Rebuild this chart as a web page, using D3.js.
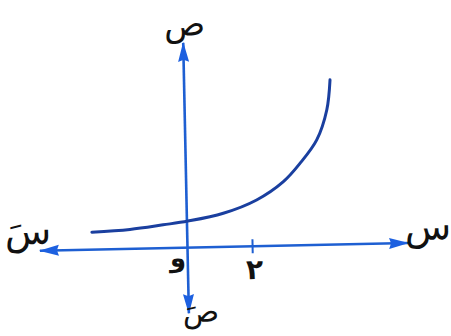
<!DOCTYPE html>
<html>
<head>
<meta charset="utf-8">
<script src="https://cdn.jsdelivr.net/npm/d3@7"></script>
<style>
  html, body { margin: 0; padding: 0; background: #fff; }
  svg { display: block; }
  .lbl { font-family: "DejaVu Sans", sans-serif; fill: #111; }
</style>
</head>
<body>
<div id="chart"></div>
<script>
// curve points (x in units, y in units)
const curveX = [-2.95, -1.77, -0.74, 0.03, 1.13, 2.17, 3.01, 3.54, 4.07, 4.40, 4.52];
const curveY = [0.54, 0.60, 0.72, 0.82, 1.04, 1.43, 1.98, 2.54, 3.25, 4.17, 5.10];

// axis extents (units)
const xDomain = [-4.57, 6.83];
const yDomain = [-2.03, 6.34];
const tickValues = [2];
const tickLabels = ["٢"];

function createGraph() {
    const width = 451, height = 336;
    const origin = { x: 187.5, y: 247.6 };
    const unit = 32.3;
    const axisColor = "#1e5fd2";
    const curveColor = "#1a3f9f";

    const svg = d3.select("#chart").append("svg")
        .attr("width", width)
        .attr("height", height);

    const defs = svg.append("defs");
    defs.append("marker")
        .attr("id", "arrow")
        .attr("viewBox", "0 0 20 12")
        .attr("refX", 19)
        .attr("refY", 6)
        .attr("markerWidth", 20)
        .attr("markerHeight", 12)
        .attr("markerUnits", "userSpaceOnUse")
        .attr("orient", "auto-start-reverse")
        .append("path")
        .attr("d", "M0,0.5 L20,6 L0,11.5 L2,6 Z")
        .attr("fill", "#1d60e0");

    // the scan is tilted a little, so the whole drawing is too
    const g = svg.append("g")
        .attr("transform", `translate(${origin.x},${origin.y}) rotate(-1.2)`);

    const x = d3.scaleLinear().domain([0, 1]).range([0, unit]);
    const y = d3.scaleLinear().domain([0, 1]).range([0, -unit]);

    // x axis (arrows both ends)
    g.append("line")
        .attr("x1", x(xDomain[0])).attr("x2", x(xDomain[1]))
        .attr("y1", y(0)).attr("y2", y(0))
        .attr("stroke", axisColor).attr("stroke-width", 2.6)
        .attr("marker-start", "url(#arrow)")
        .attr("marker-end", "url(#arrow)");

    // y axis
    g.append("line")
        .attr("x1", x(0)).attr("x2", x(0))
        .attr("y1", y(yDomain[0])).attr("y2", y(yDomain[1]))
        .attr("stroke", axisColor).attr("stroke-width", 2.6)
        .attr("marker-start", "url(#arrow)")
        .attr("marker-end", "url(#arrow)");

    // tick at 2
    const axis = g.append("g")
        .call(d3.axisBottom(x).tickValues(tickValues).tickSizeOuter(0).tickSizeInner(7)
            .tickFormat((d, i) => tickLabels[i]));
    axis.select(".domain").remove();
    axis.selectAll(".tick line")
        .attr("y1", -7).attr("y2", 7)
        .attr("stroke", axisColor).attr("stroke-width", 2);
    axis.selectAll(".tick text")
        .attr("class", "lbl")
        .attr("y", 23).attr("dy", "0.35em").attr("x", 1.5)
        .style("font-size", "28px")
        .style("font-family", "DejaVu Sans, sans-serif")
        .style("font-weight", "bold")
        .attr("fill", "#111");

    // curve
    const pts = curveX.map((d, i) => [d, curveY[i]]);
    g.append("path")
        .datum(pts)
        .attr("d", d3.line().x(d => x(d[0])).y(d => y(d[1])).curve(d3.curveCatmullRom.alpha(0.5)))
        .attr("fill", "none")
        .attr("stroke", curveColor)
        .attr("stroke-width", 3)
        .attr("stroke-linecap", "round");

    // axis letters
    const labels = [
        { t: "ص", gx: 1.7, gy: -224, s: 34, w: "normal" },
        { t: "س", gx: 240.9, gy: -16, s: 38, w: "normal" },
        { t: "سَ", gx: -159.2, gy: -20, s: 38, w: "normal" },
        { t: "صَ", gx: 12, gy: 64, s: 30, w: "normal" },
        { t: "و", gx: -9.8, gy: 10, s: 26, w: "bold" }
    ];
    g.selectAll(".axlbl")
        .data(labels)
        .enter().append("text")
        .attr("class", "lbl axlbl")
        .attr("x", d => d.gx)
        .attr("y", d => d.gy)
        .attr("text-anchor", "middle")
        .attr("dominant-baseline", "central")
        .style("font-size", d => d.s + "px")
        .style("font-weight", d => d.w)
        .text(d => d.t);
}

createGraph();
</script>
</body>
</html>
